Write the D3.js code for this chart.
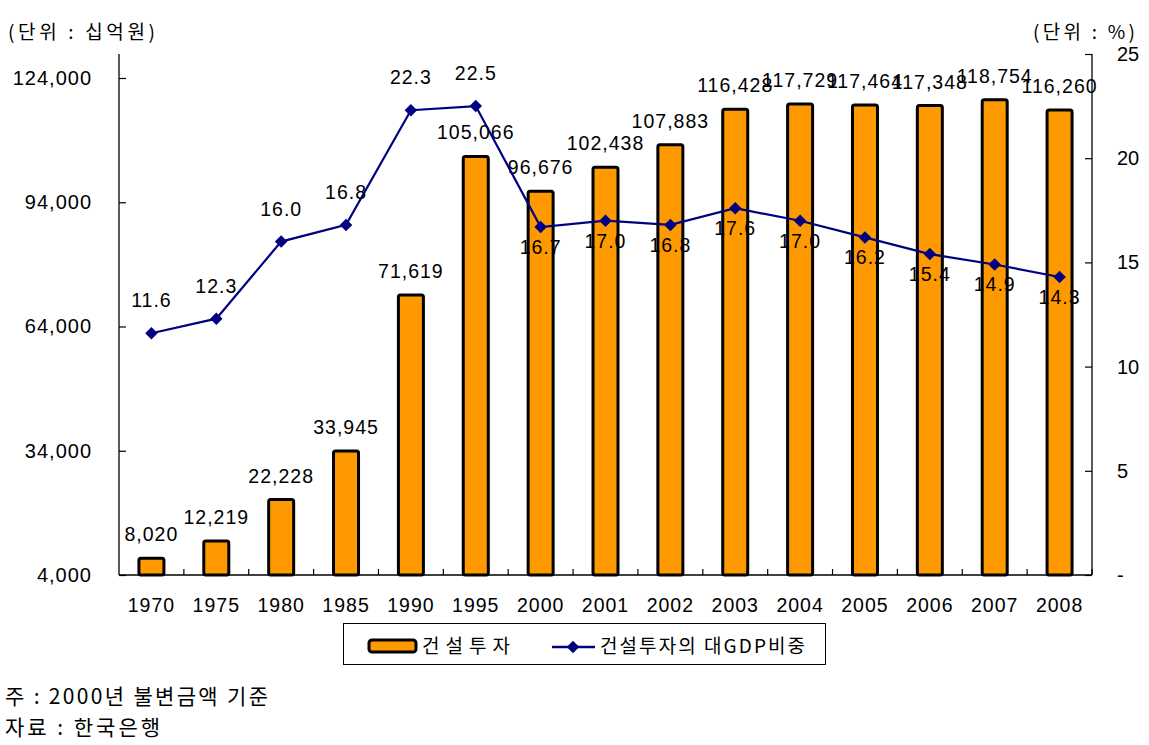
<!DOCTYPE html>
<html><head><meta charset="utf-8">
<script src="https://cdn.jsdelivr.net/npm/d3@7"></script>
<style>
html,body{margin:0;padding:0;background:#fff;}
svg{display:block;}
text{font-family:"Liberation Sans",Arial,sans-serif;fill:#000;}
.kr{font-family:"Noto Sans CJK KR","Noto Sans",sans-serif;}
</style></head>
<body>
<svg id="chart" width="1149" height="745"></svg>
<script>
const years = ["1970","1975","1980","1985","1990","1995","2000","2001","2002","2003","2004","2005","2006","2007","2008"];
const investment = [8020,12219,22228,33945,71619,105066,96676,102438,107883,116428,117729,117464,117348,118754,116260];
const gdpShare = [11.6,12.3,16.0,16.8,22.3,22.5,16.7,17.0,16.8,17.6,17.0,16.2,15.4,14.9,14.3];
const leftTicks = [4000,34000,64000,94000,124000];
const rightTicks = [0,5,10,15,20,25];
const barName = "건설투자";
const lineName = "건설투자의 대GDP비중";
const leftUnit = "(단위 : 십억원)";
const rightUnit = "(단위 : %)";
const notes = ["주 : 2000년 불변금액 기준","자료 : 한국은행"];

const svg = d3.select("#chart");
svg.append("rect").attr("width",1149).attr("height",745).attr("fill","#fff");

const L = 119, R = 1092, T = 54, B = 575;
const x = d3.scaleBand().domain(years).range([L, R]).padding(0);
const yL = d3.scaleLinear().domain([4000, 129795]).range([B, T]);
const yR = d3.scaleLinear().domain([0, 25]).range([B, T]);
const fmt = d3.format(",");
const orange = "#FF9900", navy = "#000080";

// bars
const bw = 25;
svg.append("g").selectAll("rect").data(investment).join("rect")
  .attr("x",(d,i)=>x(years[i]) + x.bandwidth()/2 - bw/2)
  .attr("y",d=>yL(d))
  .attr("width",bw)
  .attr("height",d=>B - yL(d))
  .attr("rx",2)
  .attr("fill",orange).attr("stroke","#000").attr("stroke-width",3);

// axes
const gL = svg.append("g").attr("transform",`translate(${L},0)`)
  .call(d3.axisLeft(yL).tickValues(leftTicks).tickFormat(fmt).tickSize(-7).tickPadding(27));
const gR = svg.append("g").attr("transform",`translate(${R},0)`)
  .call(d3.axisRight(yR).tickValues(rightTicks).tickFormat(d=>d===0?"-":d).tickSize(-7).tickPadding(25));
const gB = svg.append("g").attr("transform",`translate(0,${B})`)
  .call(d3.axisBottom(x).tickSize(0).tickPadding(23.5));
[gL,gR,gB].forEach(g=>{
  g.select(".domain").attr("stroke","#000").attr("stroke-width",1.3);
  g.selectAll(".tick line").attr("stroke","#000").attr("stroke-width",1.2);
  g.selectAll("text").attr("font-family","'Liberation Sans',Arial,sans-serif").attr("fill","#000");
});
gL.select(".domain").attr("d",`M0,${B}V${T}`);
gR.select(".domain").attr("d",`M0,${B}V${T}`);
gL.selectAll("text").attr("font-size",20).attr("letter-spacing",1);
gR.selectAll("text").attr("font-size",20);
gB.selectAll("text").attr("font-size",19.5).attr("letter-spacing",1);
gB.select(".domain").attr("d",`M${L},0H${R}`);
// category boundary ticks
const bounds = years.slice(1).map(y=>x(y)).concat([R]);
svg.append("g").selectAll("line").data(bounds).join("line")
  .attr("x1",d=>d).attr("x2",d=>d).attr("y1",B).attr("y2",B-6)
  .attr("stroke","#000").attr("stroke-width",1.2);

// bar labels
svg.append("g").selectAll("text").data(investment).join("text")
  .attr("x",(d,i)=>x(years[i]) + x.bandwidth()/2)
  .attr("y",d=>yL(d) - 17)
  .attr("text-anchor","middle").attr("font-size",19.5).attr("letter-spacing",1)
  .text(d=>fmt(d));

// line
const cx = i => x(years[i]) + x.bandwidth()/2;
svg.append("path").datum(gdpShare)
  .attr("d",d3.line().x((d,i)=>cx(i)).y(d=>yR(d)))
  .attr("fill","none").attr("stroke",navy).attr("stroke-width",2.2);
const diamond = d3.symbol().type(d3.symbolDiamond2).size(100);
svg.append("g").selectAll("path").data(gdpShare).join("path")
  .attr("d",diamond)
  .attr("transform",(d,i)=>`translate(${cx(i)},${yR(d)})`)
  .attr("fill",navy);
svg.append("g").selectAll("text").data(gdpShare).join("text")
  .attr("x",(d,i)=>cx(i))
  .attr("y",(d,i)=> i<6 ? yR(d)-26 : yR(d)+27)
  .attr("text-anchor","middle").attr("font-size",19.5).attr("letter-spacing",1)
  .text(d=>d.toFixed(1));

// helper for Korean text spread to a width
function kt(g, str, x0, y0, size, len){
  return g.append("text").attr("class","kr").attr("x",x0).attr("y",y0)
    .attr("font-size",size).attr("textLength",len).attr("lengthAdjust","spacing").text(str);
}
// unit titles
kt(svg, leftUnit, 8, 39, 19, 147);
kt(svg, rightUnit, 1033, 39, 19, 102);

// legend
const lg = svg.append("g");
lg.append("rect").attr("x",343.5).attr("y",623.5).attr("width",482).attr("height",41).attr("fill","#fff").attr("stroke","#000").attr("stroke-width",1);
lg.append("rect").attr("x",369).attr("y",640).attr("width",47).attr("height",12).attr("rx",3)
  .attr("fill",orange).attr("stroke","#000").attr("stroke-width",3);
kt(lg, barName, 422, 653, 19, 88);
lg.append("line").attr("x1",552).attr("x2",595).attr("y1",647).attr("y2",647).attr("stroke",navy).attr("stroke-width",2.5);
lg.append("path").attr("d",diamond).attr("transform","translate(573,647)").attr("fill",navy);
kt(lg, lineName, 600, 653, 19, 205);

// notes
kt(svg, notes[0], 5, 704, 21, 263);
kt(svg, notes[1], 5, 735, 21, 155);
</script>
</body></html>
